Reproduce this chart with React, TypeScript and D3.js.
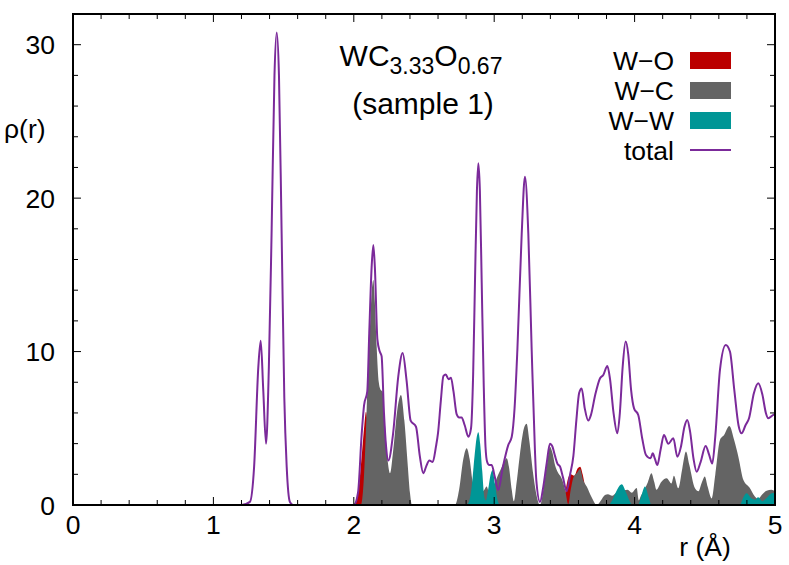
import React from "react";
import * as d3 from "d3";

const xTicks = [0, 1, 2, 3, 4, 5];
const yTicks = [0, 10, 20, 30];

const totalRho: [number, number][] = [
  [0, 0], [1.2, 0], [1.26, 0.2], [1.29, 2.5], [1.32, 9], [1.337, 10.7], [1.355, 7.5], [1.375, 4.0],
  [1.395, 9], [1.415, 18], [1.435, 28], [1.451, 30.8], [1.467, 28], [1.486, 17.7], [1.505, 7],
  [1.522, 2.5], [1.545, 0.2], [1.57, 0],
  [2.0, 0], [2.03, 0.8], [2.056, 4.6], [2.073, 6.5], [2.096, 7.4], [2.11, 11.2], [2.127, 15.5],
  [2.139, 16.95], [2.15, 15.5], [2.168, 10.8], [2.185, 10], [2.198, 9.7], [2.215, 6], [2.23, 3.8],
  [2.246, 2.9], [2.28, 4.67], [2.317, 8.4], [2.348, 9.9], [2.376, 8.1], [2.405, 5.5], [2.443, 5.1],
  [2.47, 3.2], [2.495, 2.07], [2.515, 2.5], [2.538, 2.9], [2.562, 2.8], [2.585, 3.8], [2.6, 4.7],
  [2.62, 6.8], [2.638, 8.4], [2.655, 8.5], [2.675, 8.2], [2.692, 8.3], [2.71, 7.4], [2.733, 5.9],
  [2.75, 5.7], [2.768, 5.7], [2.79, 5.2], [2.816, 4.45], [2.835, 5.0], [2.85, 8.5], [2.863, 14.5],
  [2.877, 20.5], [2.887, 22.27], [2.898, 20.5], [2.911, 14.5], [2.925, 8], [2.938, 3.8], [2.95, 2.8],
  [2.965, 2.6], [2.982, 2.6], [3.005, 1.8], [3.029, 0.98], [3.06, 2.4], [3.1, 3.9], [3.125, 4.45],
  [3.145, 6.3], [3.165, 10.1], [3.196, 17.7], [3.219, 21.4], [3.243, 17.7], [3.267, 10.1], [3.29, 3.6],
  [3.3, 1.6], [3.326, 0.2], [3.35, 1.2], [3.375, 2.8], [3.397, 4.0], [3.415, 3.8], [3.433, 3.2],
  [3.45, 2.7], [3.469, 2.5], [3.49, 1.8], [3.516, 0.9], [3.54, 1.96], [3.564, 3.2], [3.585, 5.5],
  [3.605, 7.3], [3.623, 7.6], [3.645, 6.3], [3.67, 5.5], [3.69, 5.9], [3.72, 7.2], [3.754, 8.26],
  [3.777, 8.47], [3.806, 9.06], [3.825, 8.2], [3.85, 6], [3.877, 4.67], [3.895, 6], [3.915, 9],
  [3.936, 10.65], [3.955, 9.8], [3.975, 7.5], [3.996, 6.3], [4.026, 5.87], [4.055, 4.3], [4.081, 3.26],
  [4.114, 3.04], [4.129, 3.37], [4.145, 3.0], [4.162, 2.6], [4.185, 3.6], [4.209, 4.56], [4.24, 4.0],
  [4.276, 4.35], [4.304, 3.15], [4.33, 3.8], [4.355, 5.1], [4.375, 5.54], [4.395, 4.8], [4.42, 3.0],
  [4.442, 2.17], [4.47, 2.8], [4.506, 3.85], [4.53, 3.3], [4.553, 2.7], [4.575, 4.5], [4.608, 8.8],
  [4.649, 10.43], [4.679, 10.0], [4.71, 7.5], [4.74, 5.2], [4.762, 4.67], [4.79, 5.2], [4.815, 5.65],
  [4.85, 7.3], [4.881, 7.93], [4.91, 7.2], [4.935, 6.0], [4.952, 5.65], [4.988, 5.87], [5.0, 5.9],
];

const wcRho: [number, number][] = [
  [2.0, 0], [2.05, 0], [2.07, 1.5], [2.085, 4.5], [2.1, 8.5], [2.115, 11.5], [2.127, 13.8],
  [2.139, 14.67], [2.15, 13.2], [2.163, 10.3], [2.178, 8], [2.192, 7.5], [2.205, 7.4], [2.22, 5.5],
  [2.24, 3], [2.258, 2.07], [2.28, 3.5], [2.31, 6.2], [2.336, 7.17], [2.36, 5.5], [2.385, 2.5],
  [2.4, 0.8], [2.415, 0], [2.72, 0], [2.75, 1.0], [2.78, 3.0], [2.804, 3.7], [2.825, 3.0],
  [2.845, 1.6], [2.865, 1.0], [2.9, 0.8], [2.93, 1.0], [2.946, 1.2], [2.965, 0.8], [2.99, 1.0],
  [3.02, 1.8], [3.05, 2.4], [3.075, 2.9], [3.089, 3.04], [3.105, 2.5], [3.125, 1.0], [3.14, 0.25],
  [3.16, 1.5], [3.19, 3.8], [3.215, 5.1], [3.231, 5.3], [3.25, 4.2], [3.275, 2.2], [3.3, 0.7],
  [3.326, 0], [3.35, 1.0], [3.375, 2.6], [3.397, 3.8], [3.415, 3.4], [3.433, 2.6], [3.455, 2.1],
  [3.48, 1.74], [3.505, 1.0], [3.528, 0.05], [3.545, 1.0], [3.564, 1.8], [3.59, 2.1], [3.611, 2.35],
  [3.635, 1.6], [3.659, 1.2], [3.694, 0.5], [3.73, 0], [3.76, 0.3], [3.789, 0.65], [3.81, 0.7],
  [3.84, 0.6], [3.87, 0.8], [3.9, 0.9], [3.95, 1.0], [3.98, 0.8], [4.015, 1.1], [4.03, 0.3],
  [4.045, 0.6], [4.07, 1.0], [4.095, 1.5], [4.12, 2.07], [4.14, 1.5], [4.156, 1.0], [4.19, 1.5],
  [4.228, 1.74], [4.263, 1.4], [4.28, 1.9], [4.311, 1.09], [4.34, 2.4], [4.366, 3.48], [4.39, 2.6],
  [4.43, 1.09], [4.455, 0.9], [4.48, 1.5], [4.5, 1.85], [4.52, 1.2], [4.549, 0.43], [4.575, 2.0],
  [4.608, 4.24], [4.637, 4.56], [4.675, 5.15], [4.71, 4.2], [4.739, 3.15], [4.775, 1.63],
  [4.817, 1.15], [4.858, 0.54], [4.88, 0.4], [4.91, 0.7], [4.94, 0.93], [4.975, 1.0], [5.0, 0.9],
];

const woRho: [number, number][] = [
  [2.0, 0], [2.02, 0.3], [2.04, 1.5], [2.06, 3.6], [2.075, 5.2], [2.087, 6.08], [2.1, 5.0],
  [2.12, 2.0], [2.15, 0.3], [2.18, 0], [3.48, 0], [3.505, 0.8], [3.525, 1.7], [3.545, 2.0],
  [3.57, 1.9], [3.595, 2.4], [3.612, 2.5], [3.63, 2.0], [3.655, 0.8], [3.68, 0.1], [3.7, 0],
];

const wwRho: [number, number][] = [
  [2.8, 0], [2.82, 0.2], [2.84, 1.2], [2.86, 3.2], [2.875, 4.4], [2.887, 4.74], [2.9, 4.0],
  [2.915, 2.2], [2.93, 0.5], [2.94, 0.3], [2.955, 0.9], [2.975, 2.0], [2.989, 2.28], [3.005, 1.4],
  [3.025, 0.3], [3.04, 0], [3.81, 0], [3.84, 0.3], [3.87, 0.9], [3.908, 1.35], [3.94, 0.8],
  [3.965, 0.25], [3.985, 0], [4.025, 0], [4.045, 0.5], [4.074, 1.2], [4.1, 0.5], [4.12, 0],
  [4.75, 0], [4.775, 0.5], [4.798, 0.76], [4.83, 0.45], [4.858, 0.35], [4.88, 0.5], [4.91, 0.25],
  [4.94, 0.45], [4.976, 0.76], [5.0, 0.8],
];

const legendLabels = ["W\u2212O", "W\u2212C", "W\u2212W", "total"];

const COLORS = {
  wo: "#bb0000",
  wc: "#646464",
  ww: "#009696",
  total: "#7b2a9a",
};

const W = 789;
const H = 565;
const L = 73;
const R = 775;
const T = 14;
const B = 505;
const FONT = "'Liberation Sans', Arial, Helvetica, sans-serif";

export default function App() {
  const x = d3.scaleLinear().domain([0, 5]).range([L, R]);
  const y = d3.scaleLinear().domain([0, 32]).range([B, T]);

  const area = d3
    .area<[number, number]>()
    .x((d) => x(d[0]))
    .y0(y(0))
    .y1((d) => y(d[1]))
    .curve(d3.curveMonotoneX);
  const line = d3
    .line<[number, number]>()
    .x((d) => x(d[0]))
    .y((d) => y(d[1]))
    .curve(d3.curveMonotoneX);

  const xMinor = d3.range(0, 5.0001, 0.2).filter((v) => Math.abs(v - Math.round(v)) > 1e-6);
  const yMinor = d3.range(0, 32.0001, 2).filter((v) => Math.round(v) % 10 !== 0);

  const majorLen = 8;
  const minorLen = 5;
  const fs = 26.5;

  const legendColors = [COLORS.wo, COLORS.wc, COLORS.ww];

  return (
    <svg width={W} height={H} style={{ display: "block", position: "absolute", left: 0, top: 0 }} fontFamily={FONT}>
      <rect x={0} y={0} width={W} height={H} fill="#fff" />
      <defs>
        <clipPath id="plotclip">
          <rect x={L} y={T} width={R - L} height={B - T} />
        </clipPath>
      </defs>
      <g clipPath="url(#plotclip)">
        <path d={area(woRho) || ""} fill={COLORS.wo} />
        <path d={area(wcRho) || ""} fill={COLORS.wc} />
        <path d={area(wwRho) || ""} fill={COLORS.ww} />
        <path d={line(totalRho) || ""} fill="none" stroke={COLORS.total} strokeWidth={2} strokeLinejoin="round" />
      </g>

      <g stroke="#000" strokeWidth={1}>
        {xTicks.map((v) => (
          <g key={"xt" + v}>
            <line x1={x(v)} x2={x(v)} y1={B} y2={B - majorLen} />
            <line x1={x(v)} x2={x(v)} y1={T} y2={T + majorLen} />
          </g>
        ))}
        {xMinor.map((v) => (
          <g key={"xm" + v}>
            <line x1={x(v)} x2={x(v)} y1={B} y2={B - minorLen} />
            <line x1={x(v)} x2={x(v)} y1={T} y2={T + minorLen} />
          </g>
        ))}
        {yTicks.map((v) => (
          <g key={"yt" + v}>
            <line x1={L} x2={L + majorLen} y1={y(v)} y2={y(v)} />
            <line x1={R} x2={R - majorLen} y1={y(v)} y2={y(v)} />
          </g>
        ))}
        {yMinor.map((v) => (
          <g key={"ym" + v}>
            <line x1={L} x2={L + minorLen} y1={y(v)} y2={y(v)} />
            <line x1={R} x2={R - minorLen} y1={y(v)} y2={y(v)} />
          </g>
        ))}
      </g>
      <rect x={L} y={T} width={R - L} height={B - T} fill="none" stroke="#000" strokeWidth={2} />

      <g fontSize={fs} fill="#000">
        {xTicks.map((v) => (
          <text key={"xl" + v} x={x(v)} y={534} textAnchor="middle">
            {v}
          </text>
        ))}
        {yTicks.map((v) => (
          <text key={"yl" + v} x={55} y={y(v) + 9.5} textAnchor="end">
            {v}
          </text>
        ))}
        <text x={4} y={138}>ρ(r)</text>
        <text x={705} y={556} textAnchor="middle">r (Å)</text>
      </g>

      <g fill="#000">
        <text x={421} y={66} textAnchor="middle" fontSize={30}>
          WC<tspan fontSize={23} dy={8}>3.33</tspan>
          <tspan dy={-8}>O</tspan>
          <tspan fontSize={23} dy={8}>0.67</tspan>
        </text>
        <text x={423} y={114} textAnchor="middle" fontSize={30}>
          (sample 1)
        </text>
      </g>

      <g fontSize={fs} fill="#000">
        {legendLabels.map((lab, i) => (
          <text key={lab} x={674} y={60 + i * 30 + 9.5} textAnchor="end">
            {lab}
          </text>
        ))}
        {legendColors.map((c, i) => (
          <rect key={c} x={690} y={52 + i * 30} width={41} height={17} fill={c} />
        ))}
        <line x1={690} x2={731} y1={150} y2={150} stroke={COLORS.total} strokeWidth={2} />
      </g>
    </svg>
  );
}
